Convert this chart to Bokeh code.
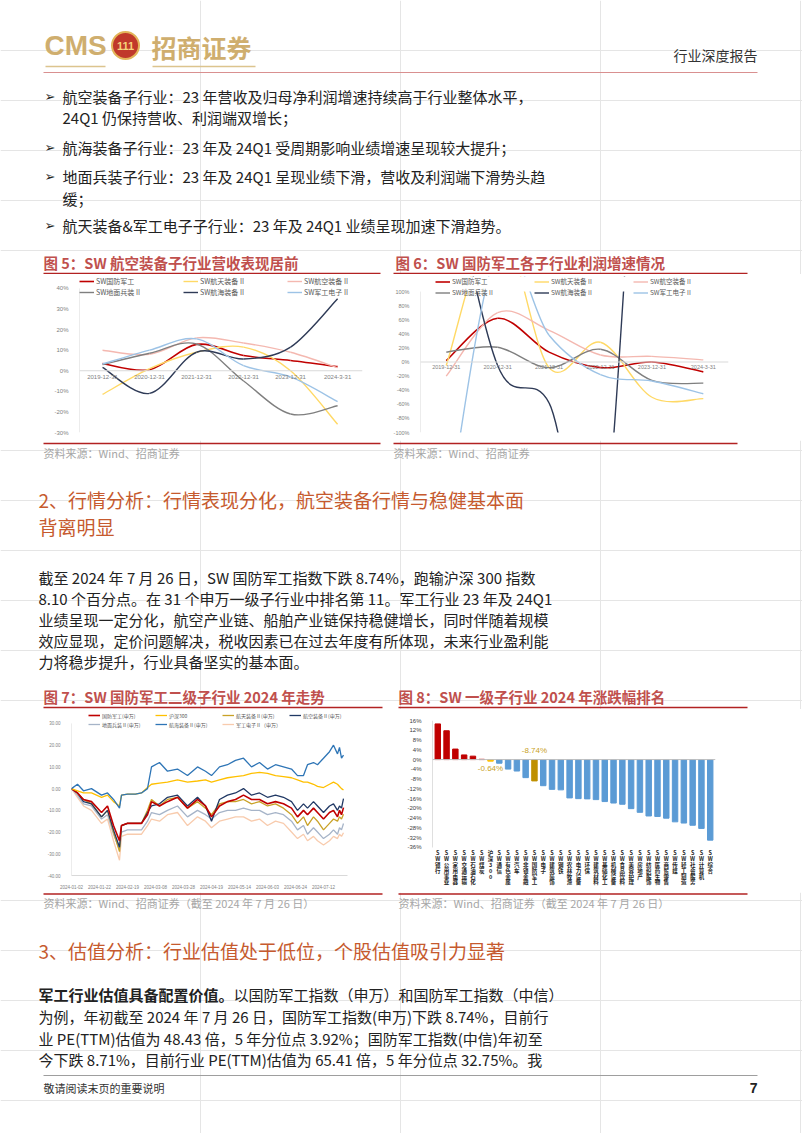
from bokeh.plotting import figure
from bokeh.models import (Range1d, Legend, LegendItem, FixedTicker, PrintfTickFormatter,
                          Span, Label, Spacer)
from bokeh.layouts import column, row
from bokeh.embed import file_html
from bokeh.resources import INLINE
from bokeh.core.properties import value

CJK = "Noto Sans CJK SC"
LAT = "Liberation Sans"

# ---------------- data ----------------
# Fig 5: revenue growth (%)
periods = ["2019-12-31", "2020-12-31", "2021-12-31", "2022-12-31", "2023-12-31", "2024-3-31"]
sub_names = ["SW国防军工", "SW航天装备 II", "SW航空装备 II", "SW地面兵装 II", "SW航海装备 II", "SW军工电子 II"]
rev_gfjg = [3.5, 0.5, 12.8, 7.4, 5.0, 2.0]
rev_htzb = [-11.5, 1.0, 9.0, 11.5, 0.0, -26.0]
rev_hkzb = [10.0, 8.0, 16.0, 13.5, 9.0, 1.5]
rev_dmbz = [3.0, 8.5, 13.0, -5.0, -21.0, -17.0]
rev_hhzb = [1.6, -11.0, 9.0, 5.7, 11.5, 35.0]
rev_jgdz = [3.3, 10.0, 15.5, 2.5, -3.0, -15.0]
# Fig 6: profit growth (%)
pro_gfjg = [2.0, 62.0, 14.0, -8.0, 0.0, -14.0]
pro_htzb = [-5.0, 200.0, -8.0, 28.0, -50.0, -52.0]
pro_hkzb = [-20.0, 70.0, 45.0, 10.0, 8.0, 3.0]
pro_dmbz = [14.0, 21.0, -8.0, 18.0, -26.0, -30.0]
pro_hhzb = [300.0, -5.0, -58.0, -280.0, 600.0, 400.0]
pro_jgdz = [-230.0, 160.0, 38.0, -18.0, -27.0, -45.0]

# Fig 7: 2024 cumulative change (%), x = trading-day index
day_idx = [0, 3, 6, 10, 15, 18, 21, 24, 25, 28, 32, 35, 38, 40, 44, 48, 53, 58, 63, 67,
           70, 74, 78, 82, 86, 90, 94, 98, 102, 106, 110, 113, 116, 118, 121, 123, 126, 129,
           131, 133, 134, 135, 136]
tick_days = [0, 14, 28, 42, 56, 70, 84, 98, 112, 126]
tick_dates = ["2024-01-02", "2024-01-22", "2024-02-19", "2024-03-08", "2024-03-28",
              "2024-04-19", "2024-05-14", "2024-06-03", "2024-06-24", "2024-07-12"]
idx_names = ["国防军工(申万)", "沪深300", "航天装备Ⅱ(申万)", "航空装备Ⅱ(申万)",
             "地面兵装Ⅱ(申万)", "航海装备Ⅱ(申万)", "军工电子Ⅱ（申万）"]
ts_gfjg = [0, -2, -5, -6, -11, -8, -17, -24, -17, -16, -16, -16, -12, -6, -8, -6, -4, -9, -5, -8,
           -13, -8, -6, -5, -3, -5, -5, -7, -6, -7, -9, -13, -10, -12, -9, -11, -14, -11, -10, -13,
           -10, -12, -8.74]
ts_hs300 = [0, -1, -2, -2, -4, -3, -6, -8, -3, -2.5, -2.5, -2, 0.5, 2, 2.5, 3, 4, 3, 3.5, 4,
            3, 4, 5, 5.5, 6, 7, 7.5, 7, 6, 5.5, 5, 4, 3, 3, 2, 1, 0.5, 2, 3, 2, 1, 0, -0.64]
ts_htzb = [0, -2, -5, -7, -13, -10, -20, -29, -17, -16, -16, -16, -10, -5, -8, -5, -4, -9, -6, -9,
           -12, -7, -6, -6, -5, -7, -6, -8, -7, -9, -12, -16, -13, -17, -13, -15, -19, -16, -14, -15,
           -13, -14, -11.83]
ts_hkzb = [0, -2, -6, -7, -13, -10, -19, -27, -17, -16, -16, -16, -11, -8, -7, -4, -3, -8, -4, -8,
           -15, -5, -3, -2, 0, -3, -2, -4, -3, -4, -6, -10, -7, -9, -6, -8, -11, -8, -7, -10,
           -8, -9, -4.63]
ts_dmbz = [0, -3, -7, -8, -14, -12, -21, -28, -20, -19, -19, -19, -15, -11, -12, -10, -8, -13, -10, -12,
           -14, -11, -10, -10, -9, -10, -10, -12, -11, -12, -15, -19, -17, -21, -18, -20, -23, -21, -19, -21,
           -18, -19, -16.03]
ts_hhzb = [0, 2, -1, 0, -3, -2, -5, -9, -3, -2.5, -2.5, -2, 0, 10, 12, 8, 9, 6, 10, 8,
           6, 10, 11, 13, 14, 10, 12, 9, 11, 10, 9, 6, 6, 11, 12, 11, 14, 17, 20, 16,
           19, 14, 15.46]
ts_jgdz = [0, -4, -8, -10, -16, -14, -24, -33, -22, -21, -21, -21, -17, -14, -15, -12, -11, -17, -13, -15,
           -18, -15, -14, -13, -13, -15, -14, -17, -15, -16, -20, -23, -21, -24, -22, -24, -26, -24, -22, -23,
           -21, -22, -20.32]

# Fig 8: SW level-1 industries 2024 change (%)
ind_names = ["SW银行", "SW公用事业", "SW家用电器", "SW交通运输", "SW石油石化", "SW煤炭", "沪深300",
             "SW通信", "SW有色金属", "SW汽车", "SW非银金融", "SW国防军工", "SW电子", "SW建筑装饰",
             "SW钢铁", "SW农林牧渔", "SW电力设备", "SW环保", "SW建筑材料", "SW基础化工", "SW机械设备",
             "SW食品饮料", "SW美容护理", "SW房地产", "SW纺织服饰", "SW医药生物", "SW商贸零售", "SW传媒",
             "SW轻工制造", "SW社会服务", "SW计算机", "SW综合"]
ind_chg = [14.6, 11.8, 4.3, 1.9, 1.4, 0.1, -0.64, -1.5, -3.9, -4.7, -7.4, -8.74, -10.7, -12.2,
           -12.4, -15.7, -16.0, -16.1, -16.4, -17.2, -17.8, -18.3, -20.1, -21.6, -23.1, -23.3, -24.0,
           -25.5, -26.0, -26.9, -28.2, -33.0]

# ---------------- helpers ----------------
W = 802


def band(y0, y1):
    p = figure(width=W, height=y1 - y0, x_range=Range1d(0, W), y_range=Range1d(y1, y0),
               output_backend="svg", toolbar_location=None, x_axis_location=None,
               y_axis_location=None, min_border=0)
    p.outline_line_color = None
    p.frame_align = False
    return p


def txt(p, x, y, s, size=15, color="#222222", align="left", bold=False, font=CJK):
    p.text(x=[x], y=[y], text=[s], text_font=value(font), text_font_size=f"{size}px",
           text_color=color, text_align=align, text_baseline="middle",
           text_font_style="bold" if bold else "normal")


def hline(p, x0, x1, y, color, w=1.0):
    p.segment(x0=[x0], y0=[y], x1=[x1], y1=[y], line_color=color, line_width=w)


def smooth(p, xs, ys, color, w):
    n = len(xs)
    d = dict(x0=[], y0=[], x1=[], y1=[], cx0=[], cy0=[], cx1=[], cy1=[])
    for i in range(n - 1):
        a = i - 1 if i > 0 else 0
        b = i + 2 if i + 2 < n else n - 1
        d["x0"].append(xs[i]); d["y0"].append(ys[i])
        d["x1"].append(xs[i + 1]); d["y1"].append(ys[i + 1])
        d["cx0"].append(xs[i] + (xs[i + 1] - xs[a]) / 6.0)
        d["cy0"].append(ys[i] + (ys[i + 1] - ys[a]) / 6.0)
        d["cx1"].append(xs[i + 1] - (xs[b] - xs[i]) / 6.0)
        d["cy1"].append(ys[i + 1] - (ys[b] - ys[i]) / 6.0)
    return p.bezier(line_color=color, line_width=w, **d)


def chart(w, h, xr, yr, l, r, t, b, xaxis=True):
    p = figure(width=w, height=h, x_range=Range1d(*xr), y_range=Range1d(*yr),
               output_backend="svg", toolbar_location=None,
               x_axis_location="below" if xaxis else None,
               min_border_left=l, min_border_right=r, min_border_top=t, min_border_bottom=b)
    p.frame_align = False
    p.grid.visible = False
    p.outline_line_color = None
    for ax in p.axis:
        ax.major_tick_line_color = None
        ax.minor_tick_line_color = None
        ax.axis_line_color = "#D9D9D9"
        ax.major_label_text_color = "#7F7F7F"
        ax.major_label_text_font = LAT
    return p


def legend(p, items, ncols, size, gw, lw, lh, loc):
    lg = Legend(items=[LegendItem(label=n, renderers=[r]) for n, r in items],
                ncols=ncols, orientation="horizontal", location=loc,
                label_text_font=CJK, label_text_font_size=f"{size}px", label_text_color="#595959",
                glyph_width=gw, glyph_height=lh, label_height=lh, label_width=lw,
                label_standoff=2, spacing=1, padding=0, margin=0,
                border_line_alpha=0, background_fill_alpha=0)
    p.add_layout(lg, "center")


def vaxis_line(p, x, y0, y1, color="#D9D9D9"):
    p.segment(x0=[x], y0=[y0], x1=[x], y1=[y1], line_color=color, line_width=1)


sub_colors = ["#C00000", "#FFD966", "#F4B8B0", "#7F7F7F", "#2F3B57", "#9DC3E6"]
xcat = list(range(len(periods)))

# ---------------- Fig 5 ----------------
p5 = chart(342, 166, (-0.49, 5.53), (-30, 45.8), 36, 23, 2, 8, xaxis=False)
p5.yaxis.axis_line_color = None
vaxis_line(p5, -0.49, -30, 40)
p5.add_layout(Span(location=0, dimension="width", line_color="#D9D9D9", line_width=1))
r5 = []
for ys, c in zip([rev_gfjg, rev_htzb, rev_hkzb, rev_dmbz, rev_hhzb, rev_jgdz], sub_colors):
    r5.append(smooth(p5, xcat, ys, c, 1.6 if c == "#C00000" else 1.4))
p5.text(x=xcat, y=[0] * len(xcat), text=periods, y_offset=4, text_align="center",
        text_baseline="top", text_font=value(LAT), text_font_size="6px", text_color="#7F7F7F")
legend(p5, list(zip(sub_names, r5)), 3, 7, 15, 86, 8, "top_left")
p5.yaxis.ticker = FixedTicker(ticks=list(range(-30, 41, 10)))
p5.yaxis.formatter = PrintfTickFormatter(format="%d%%")
p5.yaxis.major_label_text_font_size = "6px"

# ---------------- Fig 6 ----------------
p6 = chart(370, 166, (-0.5, 5.49), (-100, 121.3), 25, 32, 2, 8, xaxis=False)
p6.yaxis.axis_line_color = None
vaxis_line(p6, -0.5, -100, 100)
p6.add_layout(Span(location=0, dimension="width", line_color="#D9D9D9", line_width=1))
r6 = []
for ys, c in zip([pro_gfjg, pro_htzb, pro_hkzb, pro_dmbz, pro_hhzb, pro_jgdz], sub_colors):
    r6.append(smooth(p6, xcat, ys, c, 1.6 if c == "#C00000" else 1.4))
p6.quad(left=[-0.5], right=[5.49], bottom=[100], top=[121.3], fill_color="white", line_color=None)
p6.text(x=xcat, y=[0] * len(xcat), text=periods, y_offset=3, text_align="center",
        text_baseline="top", text_font=value(LAT), text_font_size="5.5px", text_color="#7F7F7F")
legend(p6, list(zip(sub_names, r6)), 3, 6.5, 15, 81, 7, (15, 135))
p6.yaxis.ticker = FixedTicker(ticks=list(range(-100, 101, 20)))
p6.yaxis.formatter = PrintfTickFormatter(format="%d%%")
p6.yaxis.major_label_text_font_size = "5.5px"

# ---------------- Fig 7 ----------------
p7 = chart(354, 183, (0, 138), (-40, 35.5), 33, 45, 2, 17)
p7.yaxis.axis_line_color = None
vaxis_line(p7, 0, -40, 30)
ts_series = [ts_gfjg, ts_hs300, ts_htzb, ts_hkzb, ts_dmbz, ts_hhzb, ts_jgdz]
ts_colors = ["#C00000", "#FFC000", "#C9A227", "#203864", "#A6B4C8", "#2E75B6", "#F8CBAD"]
draw_order = [6, 4, 2, 3, 0, 1, 5]
r7 = {}
for k in draw_order:
    r7[k] = p7.line(day_idx, ts_series[k], line_color=ts_colors[k],
                    line_width=1.6 if k == 0 else 1.3)
legend(p7, [(idx_names[k], r7[k]) for k in range(7)], 4, 5, 12, 52, 8, (17, 147))
p7.yaxis.ticker = FixedTicker(ticks=list(range(-40, 31, 10)))
p7.yaxis.formatter = PrintfTickFormatter(format="%.2f")
p7.yaxis.major_label_text_font_size = "4.5px"
p7.xaxis.ticker = FixedTicker(ticks=tick_days)
p7.xaxis.major_label_overrides = {d: s for d, s in zip(tick_days, tick_dates)}
p7.xaxis.major_label_text_font_size = "4.5px"
p7.xaxis.major_label_standoff = 3
label_nudge = [-5.6, 0.7, -6.9, -5.4, -7.7, 4.5, -6.5]
for k in range(7):
    p7.add_layout(Label(x=day_idx[-1], y=ts_series[k][-1], x_offset=5, y_offset=label_nudge[k],
                        text=f"{ts_series[k][-1]:.2f}%", text_font=LAT, text_font_size="5.5px",
                        text_font_style="bold", text_color=ts_colors[k], text_baseline="middle"))

# ---------------- Fig 8 ----------------
# frame spans 16% .. -52.8% so that the stacked category names sit inside it
p8 = chart(388, 183, (-0.6, 31.6), (-52.8, 16), 40, 65, 11, 4, xaxis=False)
p8.yaxis.axis_line_color = None
vaxis_line(p8, -0.6, -36, 16, "#BFBFBF")
xi = list(range(len(ind_names)))
bar_colors = []
for n, v in zip(ind_names, ind_chg):
    if n == "SW国防军工":
        bar_colors.append("#BF9000")
    elif n == "沪深300":
        bar_colors.append("#FFC000")
    elif v >= 0:
        bar_colors.append("#C00000")
    else:
        bar_colors.append("#5B9BD5")
p8.vbar(x=xi, top=ind_chg, width=0.62, color=bar_colors)
p8.add_layout(Span(location=0, dimension="width", line_color="#BFBFBF", line_width=1))
p8.yaxis.ticker = FixedTicker(ticks=list(range(-36, 17, 4)))
p8.yaxis.formatter = PrintfTickFormatter(format="%d%%")
p8.yaxis.major_label_text_font_size = "6px"
p8.yaxis.major_label_text_color = "#404040"
p8.text(x=xi, y=[-36] * len(xi), text=["\n".join(n) for n in ind_names], y_offset=2,
        text_align="center", text_baseline="top", text_line_height=0.72,
        text_font=value(CJK), text_font_size="5.5px", text_font_style="bold",
        text_color="#262626")
for name, off in [("SW国防军工", 9), ("沪深300", -9)]:
    i = ind_names.index(name)
    p8.add_layout(Label(x=i, y=0, y_offset=off, text=f"{ind_chg[i]:.2f}%", text_font=LAT,
                        text_font_size="8px", text_color="#C9A227", text_align="center",
                        text_baseline="middle"))

# ---------------- page bands ----------------
RED = "#C0504D"
HEAD = "#C65A2E"
SRC = "#A6A6A6"

A = band(0, 274)
txt(A, 44, 45, "CMS", size=28, color="#CFAE6E", bold=True, font=LAT)
A.scatter(x=[125], y=[45], size=27, fill_color="#C0392B", line_color="#E3B55A", line_width=2)
txt(A, 125, 45, "111", size=11, color="#F6D37C", bold=True, align="center", font=LAT)
txt(A, 151, 46, "招商证券", size=25, color="#CFAE6E", bold=True)
hline(A, 45, 105, 66, "#DCC48E", 1.5)
hline(A, 152, 255, 66, "#DCC48E", 1.5)
hline(A, 43, 757, 72, "#D99090", 1)
txt(A, 757, 54, "行业深度报告", size=14, color="#333333", align="right")
bullets = [(96, True, "航空装备子行业：23 年营收及归母净利润增速持续高于行业整体水平，"),
           (117, False, "24Q1 仍保持营收、利润端双增长；"),
           (147, True, "航海装备子行业：23 年及 24Q1 受周期影响业绩增速呈现较大提升；"),
           (176, True, "地面兵装子行业：23 年及 24Q1 呈现业绩下滑，营收及利润端下滑势头趋"),
           (198, False, "缓；"),
           (225, True, "航天装备&军工电子子行业：23 年及 24Q1 业绩呈现加速下滑趋势。")]
for y, mark, s in bullets:
    if mark:
        txt(A, 44, y, "➢", size=13, color="#222222", font="DejaVu Sans")
    txt(A, 62, y, s, size=15)
txt(A, 43, 262, "图 5：SW 航空装备子行业营收表现居前", size=14.5, color=RED, bold=True)
txt(A, 395, 262, "图 6：SW 国防军工各子行业利润增速情况", size=14.5, color=RED, bold=True)
hline(A, 43, 380, 273, "#B22222", 1.5)
hline(A, 393, 747, 273, "#B22222", 1.5)

B = row(Spacer(width=43, height=166), p5, Spacer(width=5, height=166), p6,
        Spacer(width=42, height=166))

C = band(440, 709)
hline(C, 43, 380, 443, "#B22222", 1.5)
hline(C, 393, 737, 443, "#B22222", 1.5)
txt(C, 43, 452, "资料来源：Wind、招商证券", size=11, color=SRC)
txt(C, 393, 452, "资料来源：Wind、招商证券", size=11, color=SRC)
txt(C, 38, 499, "2、行情分析：行情表现分化，航空装备行情与稳健基本面", size=19, color=HEAD)
txt(C, 38, 526, "背离明显", size=19, color=HEAD)
para2 = ["截至 2024 年 7 月 26 日，SW 国防军工指数下跌 8.74%，跑输沪深 300 指数",
         "8.10 个百分点。在 31 个申万一级子行业中排名第 11。军工行业 23 年及 24Q1",
         "业绩呈现一定分化，航空产业链、船舶产业链保持稳健增长，同时伴随着规模",
         "效应显现，定价问题解决，税收因素已在过去年度有所体现，未来行业盈利能",
         "力将稳步提升，行业具备坚实的基本面。"]
for i, s in enumerate(para2):
    txt(C, 38, 577 + i * 21, s, size=15)
txt(C, 43, 696, "图 7：SW 国防军工二级子行业 2024 年走势", size=14.5, color=RED, bold=True)
txt(C, 398, 696, "图 8：SW 一级子行业 2024 年涨跌幅排名", size=14.5, color=RED, bold=True)
hline(C, 43, 382, 707, "#B22222", 1.5)
hline(C, 398, 747, 707, "#B22222", 1.5)

D = row(Spacer(width=38, height=183), p7, p8, Spacer(width=22, height=183))

E = band(892, 1133)
hline(E, 43, 382, 893.5, "#B22222", 1.5)
hline(E, 398, 747, 893.5, "#B22222", 1.5)
txt(E, 43, 902, "资料来源：Wind、招商证券（截至 2024 年 7 月 26 日）", size=11, color=SRC)
txt(E, 398, 902, "资料来源：Wind、招商证券（截至 2024 年 7 月 26 日）", size=11, color=SRC)
txt(E, 38, 950, "3、估值分析：行业估值处于低位，个股估值吸引力显著", size=19, color=HEAD)
txt(E, 38, 994, "军工行业估值具备配置价值。", size=15, bold=True)
txt(E, 233, 994, "以国防军工指数（申万）和国防军工指数（中信）", size=15)
para3 = ["为例，年初截至 2024 年 7 月 26 日，国防军工指数(申万)下跌 8.74%，目前行",
         "业 PE(TTM)估值为 48.43 倍，5 年分位点 3.92%；国防军工指数(中信)年初至",
         "今下跌 8.71%，目前行业 PE(TTM)估值为 65.41 倍，5 年分位点 32.75%。我"]
for i, s in enumerate(para3):
    txt(E, 38, 1016 + i * 21.5, s, size=15)
hline(E, 43, 757, 1075, "#9E9E9E", 1)
txt(E, 43, 1087, "敬请阅读末页的重要说明", size=11, color="#333333")
txt(E, 757, 1087, "7", size=14, color="#222222", align="right", bold=True, font=LAT)

page = column(A, B, C, D, E)
open("out.html", "w").write(file_html(page, INLINE))
